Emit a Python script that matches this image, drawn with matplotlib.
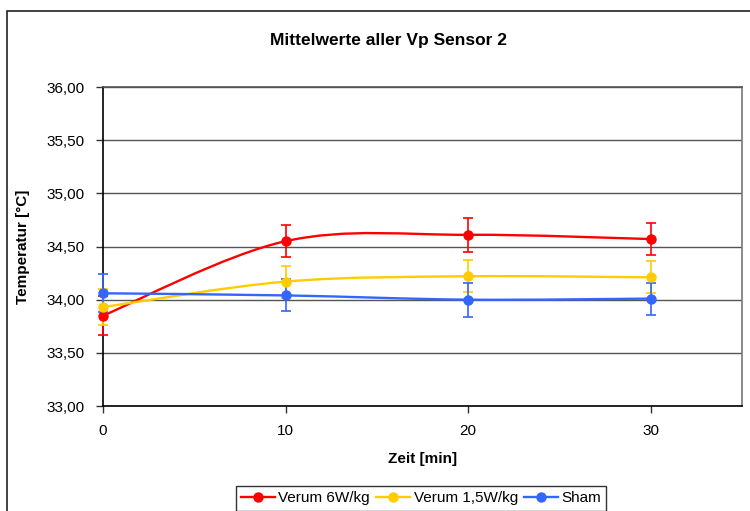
import numpy as np
import matplotlib
matplotlib.use('Agg')
import matplotlib.pyplot as plt
from matplotlib.path import Path
from matplotlib.patches import PathPatch, Rectangle
from matplotlib.lines import Line2D
from matplotlib.ticker import FuncFormatter

plt.rcParams['font.family'] = ['Liberation Sans', 'DejaVu Sans']

zeit = [0, 10, 20, 30]
verum6 = [33.85, 34.55, 34.61, 34.57]
verum6_err = [0.18, 0.15, 0.16, 0.15]
verum15 = [33.93, 34.17, 34.22, 34.21]
verum15_err = [0.17, 0.15, 0.15, 0.15]
sham = [34.06, 34.04, 34.00, 34.01]
sham_err = [0.18, 0.15, 0.16, 0.15]

names = ['Verum 6W/kg', 'Verum 1,5W/kg', 'Sham']
colors = ['#ff0000', '#ffcc00', '#3366ff']


def smooth_path(x, y):
    # Excel-like smoothed line: cubic bezier segments (Catmull-Rom control points)
    x = np.asarray(x, float)
    y = np.asarray(y, float)
    n = len(x)
    verts = [(x[0], y[0])]
    codes = [Path.MOVETO]
    for i in range(n - 1):
        p0 = i - 1 if i > 0 else i
        p3 = i + 2 if i + 2 < n else i + 1
        c1 = (x[i] + (x[i + 1] - x[p0]) / 6, y[i] + (y[i + 1] - y[p0]) / 6)
        c2 = (x[i + 1] - (x[p3] - x[i]) / 6, y[i + 1] - (y[p3] - y[i]) / 6)
        verts += [c1, c2, (x[i + 1], y[i + 1])]
        codes += [Path.CURVE4] * 3
    return Path(verts, codes)


fig = plt.figure(figsize=(7.5, 5.11), dpi=100)
fig.patches.append(Rectangle((7 / 750, -0.05), 1.1, 1 - 11 / 511 + 0.05,
                             transform=fig.transFigure, fill=False,
                             edgecolor='#222222', linewidth=1.2))

ax = fig.add_axes([103 / 750, 1 - 406 / 511, 639 / 750, 319 / 511])

handles = []
for vals, errs, name, c in zip([verum6, verum15, sham],
                               [verum6_err, verum15_err, sham_err], names, colors):
    ax.add_patch(PathPatch(smooth_path(zeit, vals), facecolor='none',
                           edgecolor=c, linewidth=1.7, zorder=3))
    ax.errorbar(zeit, vals, yerr=errs, fmt='o', color=c, ms=6.5,
                elinewidth=1.2, capsize=3.5, capthick=1.2, zorder=4, clip_on=False)
    handles.append(Line2D([], [], color=c, lw=1.7, marker='o', ms=6.5, label=name))

ax.set_xlim(0, 35)
ax.set_ylim(33, 36)
ax.set_xticks([0, 10, 20, 30])
ax.set_yticks(np.arange(33, 36.01, 0.5))
ax.yaxis.set_major_formatter(FuncFormatter(lambda v, p: f'{v:.2f}'.replace('.', ',')))
ax.grid(axis='y', color='#555555', linewidth=1)
ax.set_axisbelow(True)
ax.tick_params(labelsize=11, length=5, width=1, color='#333333', pad=8)
ax.spines['left'].set_color('black')
ax.spines['bottom'].set_color('black')
ax.spines['top'].set_color('#555555')
ax.spines['right'].set_color('#777777')
for s in ax.spines.values():
    s.set_linewidth(1.2)

fig.text(388 / 750, 1 - 40 / 511, 'Mittelwerte aller Vp Sensor 2', fontsize=12.5,
         fontweight='bold', ha='center', va='center')
ax.set_xlabel('Zeit [min]', fontsize=11, fontweight='bold', labelpad=10)
ax.set_ylabel('Temperatur [°C]', fontsize=11, fontweight='bold', labelpad=12)

# legend box runs off the bottom edge, as in the reference
fig.legend(handles=handles, loc='upper center', bbox_to_anchor=(421 / 750, 1 - 486 / 511),
           ncol=3, frameon=True, fancybox=False, edgecolor='black', fontsize=11,
           handlelength=2.2, handletextpad=0.25, columnspacing=0.4,
           borderpad=0.35, borderaxespad=0)

fig.savefig('out.png', dpi=100)
